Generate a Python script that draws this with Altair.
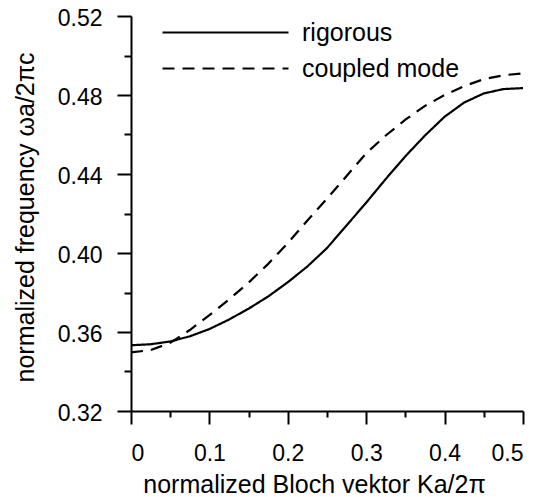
import altair as alt
import pandas as pd

k = [0, 0.025, 0.05, 0.075, 0.1, 0.125, 0.15, 0.175, 0.2, 0.225, 0.25,
     0.275, 0.3, 0.325, 0.35, 0.375, 0.4, 0.425, 0.45, 0.475, 0.5]
rigorous = [0.3533, 0.3538, 0.3552, 0.3578, 0.3615, 0.3663, 0.3718, 0.3780,
            0.3852, 0.3932, 0.4025, 0.4140, 0.4255, 0.4375, 0.4490, 0.4595,
            0.4690, 0.4762, 0.4808, 0.4830, 0.4835]
coupled = [0.3497, 0.3508, 0.3545, 0.3610, 0.3685, 0.3765, 0.3850, 0.3945,
           0.4050, 0.4165, 0.4275, 0.4390, 0.4505, 0.4595, 0.4675, 0.4745,
           0.4800, 0.4845, 0.4880, 0.4900, 0.4910]
series_names = ["rigorous", "coupled mode"]
x_ticks = [0, 0.05, 0.1, 0.15, 0.2, 0.25, 0.3, 0.35, 0.4, 0.45, 0.5]
y_ticks = [0.32, 0.34, 0.36, 0.38, 0.40, 0.42, 0.44, 0.46, 0.48, 0.50, 0.52]

rows = []
for name, vals in zip(series_names, [rigorous, coupled]):
    for kk, v in zip(k, vals):
        rows.append({"k": kk, "f": v, "series": name})
df = pd.DataFrame(rows)

FONT = "Liberation Sans"

chart = alt.Chart(df).mark_line(color="black", strokeWidth=2.2).encode(
    x=alt.X("k:Q",
            scale=alt.Scale(domain=[0, 0.5], nice=False, zero=False),
            axis=alt.Axis(
                values=x_ticks,
                title="normalized Bloch vektor Ka/2\u03c0",
                labelExpr="round(datum.value*100) % 10 === 0 ? format(datum.value, '~g') : ''",
                tickSize={"condition": {"test": "round(datum.value*100) % 10 === 0", "value": 13}, "value": 6},
                labelPadding=18,
                titleX=183, titleY=81, titleBaseline="alphabetic", titleAlign="center",
            )),
    y=alt.Y("f:Q",
            scale=alt.Scale(domain=[0.32, 0.52], nice=False, zero=False),
            axis=alt.Axis(
                values=y_ticks,
                title="normalized frequency \u03c9a/2\u03c0c",
                labelExpr="round(datum.value*100) % 4 === 0 ? format(datum.value, '.2f') : ''",
                tickSize={"condition": {"test": "round(datum.value*100) % 4 === 0", "value": 14}, "value": 7},
                labelPadding=15, labelOffset=2,
                titleX=-106, titleY=201, titleAngle=-90, titleBaseline="middle", titleAlign="center",
            )),
    strokeDash=alt.StrokeDash("series:N",
                              scale=alt.Scale(domain=series_names, range=[[1, 0], [12, 8]]),
                              legend=alt.Legend(
                                  title=None, orient="none", legendX=82, legendY=4,
                                  symbolType="M-9,0H9", symbolSize=196, symbolStrokeWidth=2.2,
                                  symbolStrokeColor="black", symbolFillColor="transparent",
                                  labelFont=FONT, labelFontSize=25, labelOffset=64,
                                  rowPadding=10, padding=0,
                              )),
    detail="series:N",
).properties(
    width=392, height=395,
    autosize=alt.AutoSizeParams(type="none"),
    padding={"left": 131, "top": 16, "right": 16, "bottom": 86},
).configure_view(stroke=None).configure_axis(
    domainColor="black", domainWidth=2, tickColor="black", tickWidth=2,
    labelFont=FONT, labelFontSize=23, labelColor="black",
    titleFont=FONT, titleFontSize=25, titleColor="black", titleFontWeight="normal",
    grid=False,
).configure_legend(labelColor="black")

chart.save("out.html", embed_options={"renderer": "svg", "actions": False})
